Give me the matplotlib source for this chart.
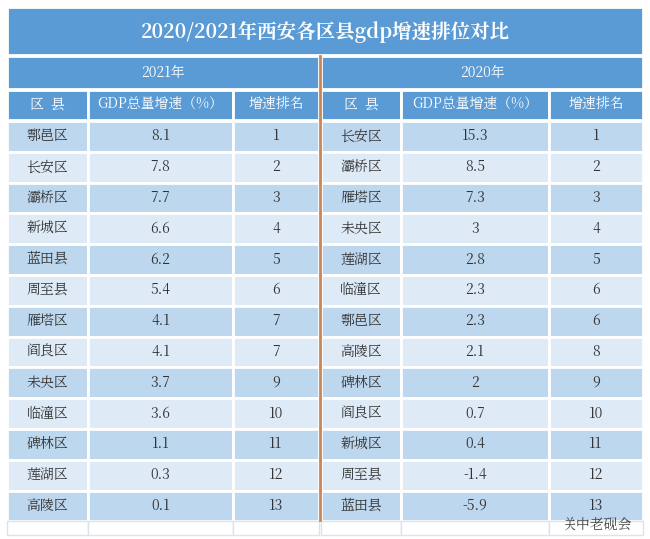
import matplotlib
matplotlib.use("Agg")
import matplotlib.pyplot as plt
from matplotlib.patches import Rectangle
from matplotlib import font_manager as fm

cjk = [f.name for f in fm.fontManager.ttflist if "CJK" in f.name]
fam = "Noto Sans CJK SC" if "Noto Sans CJK SC" in cjk else (cjk[0] if cjk else "DejaVu Sans")
plt.rcParams["font.family"] = [fam, "DejaVu Sans"]

title = "2020/2021年西安各区县gdp增速排位对比"
headers = ["区  县", "GDP总量增速（%）", "增速排名"]
d21_names = ["鄠邑区", "长安区", "灞桥区", "新城区", "蓝田县", "周至县", "雁塔区", "阎良区", "未央区", "临潼区", "碑林区", "莲湖区", "高陵区"]
d21_vals = ["8.1", "7.8", "7.7", "6.6", "6.2", "5.4", "4.1", "4.1", "3.7", "3.6", "1.1", "0.3", "0.1"]
d21_rank = ["1", "2", "3", "4", "5", "6", "7", "7", "9", "10", "11", "12", "13"]
d20_names = ["长安区", "灞桥区", "雁塔区", "未央区", "莲湖区", "临潼区", "鄠邑区", "高陵区", "碑林区", "阎良区", "新城区", "周至县", "蓝田县"]
d20_vals = ["15.3", "8.5", "7.3", "3", "2.8", "2.3", "2.3", "2.1", "2", "0.7", "0.4", "-1.4", "-5.9"]
d20_rank = ["1", "2", "3", "4", "5", "6", "6", "8", "9", "10", "11", "12", "13"]

W, H = 650, 539
fig = plt.figure(figsize=(W/100, H/100), dpi=100)
ax = fig.add_axes([0, 0, 1, 1])
ax.set_xlim(0, W); ax.set_ylim(H, 0); ax.axis("off")

BLUE = "#5b9bd5"; DARK = "#bdd7ee"; LIGHT = "#deebf7"; TXT = "#333333"
def box(x0, y0, x1, y1, c, ec="white", lw=2):
    ax.add_patch(Rectangle((x0, y0), x1-x0, y1-y0, fc=c, ec=ec, lw=lw))

box(7, 7, 643, 55, BLUE)
ax.text(325, 32, title, ha="center", va="center", color="white", fontsize=14, fontweight="bold")

left = [7, 88, 233, 319]
right = [321, 401, 549, 643]
for cols, year in [(left, "2021年"), (right, "2020年")]:
    box(cols[0], 56, cols[-1], 89, BLUE)
    ax.text((cols[0]+cols[-1])/2, 73, year, ha="center", va="center", color="white", fontsize=10)
    for i in range(3):
        box(cols[i], 90, cols[i+1], 120, BLUE)
        ax.text((cols[i]+cols[i+1])/2, 105, headers[i], ha="center", va="center", color="white", fontsize=10)

pitch = 30.8
for cols, data in [(left, (d21_names, d21_vals, d21_rank)), (right, (d20_names, d20_vals, d20_rank))]:
    for r in range(len(data[0])):
        y0 = 121 + r*pitch
        c = DARK if r % 2 == 0 else LIGHT
        for i in range(3):
            box(cols[i], y0, cols[i+1], y0+pitch, c)
            ax.text((cols[i]+cols[i+1])/2, y0+pitch/2, data[i][r], ha="center", va="center", color=TXT, fontsize=10)
    y0 = 121 + len(data[0])*pitch
    for i in range(3):
        box(cols[i], y0, cols[i+1], 535, "white", ec="#d8e4f0", lw=1)

ax.plot([320, 320], [56, 520], color="#c8875a", lw=2)
ax.text(598, 524, "关中老砚会", ha="center", va="center", color="#444444", fontsize=10)

fig.savefig("out.png", dpi=100)
